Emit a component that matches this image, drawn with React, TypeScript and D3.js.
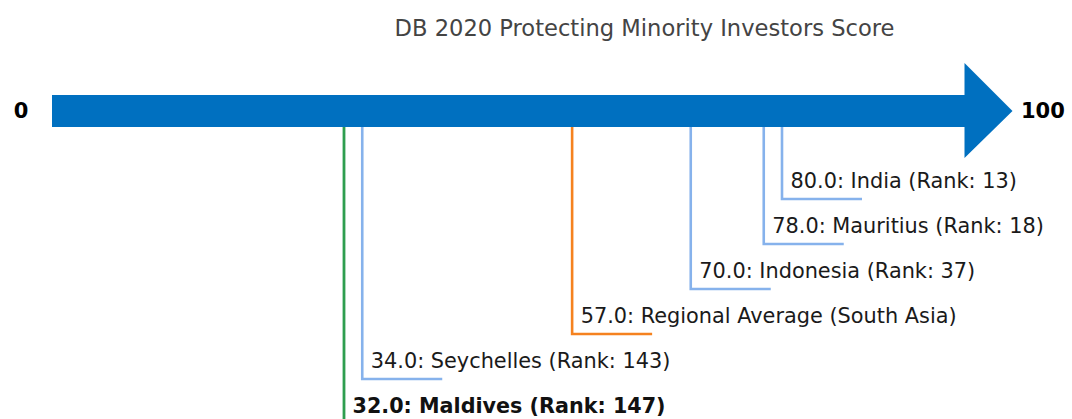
import React from "react";
import * as d3 from "d3";

const title = "DB 2020 Protecting Minority Investors Score";
const entities = ["India", "Mauritius", "Indonesia", "Regional Average (South Asia)", "Seychelles", "Maldives"];
const scores = [80.0, 78.0, 70.0, 57.0, 34.0, 32.0];
const ranks: (number | null)[] = [13, 18, 37, null, 143, 147];
const kinds = ["peer", "peer", "peer", "region", "peer", "focus"];
const axisMin = 0;
const axisMax = 100;

const W = 1072;
const H = 419;
const colors: Record<string, string> = { peer: "#86b2ec", region: "#f5821f", focus: "#2e9e4f" };
const FONT = "DejaVu Sans, Verdana, sans-serif";

export default function App() {
  const x = d3.scaleLinear().domain([axisMin, axisMax]).range([52, 964.5]);
  const y = d3.scalePoint<string>().domain(entities).range([199, 424]);
  const shaftTop = 95;
  const shaftBot = 127;
  const midY = (shaftTop + shaftBot) / 2;
  const headBase = x(axisMax);
  const arrow = d3.path();
  arrow.moveTo(x(axisMin), shaftTop);
  arrow.lineTo(headBase, shaftTop);
  arrow.lineTo(headBase, 63);
  arrow.lineTo(1012.5, midY);
  arrow.lineTo(headBase, 158);
  arrow.lineTo(headBase, shaftBot);
  arrow.lineTo(x(axisMin), shaftBot);
  arrow.closePath();

  return (
    <svg width={W} height={H} style={{ position: "absolute", left: 0, top: 0, background: "#fff" }} fontFamily={FONT}>
      <text x={644.5} y={36} textAnchor="middle" fontSize={22.6} fill="#444">{title}</text>
      {entities.map((e, i) => {
        const xi = x(scores[i]);
        const yi = y(e)!;
        const focus = kinds[i] === "focus";
        const yEnd = focus ? H + 5 : yi;
        const label = `${scores[i].toFixed(1)}: ${e}` + (ranks[i] != null ? ` (Rank: ${ranks[i]})` : "");
        const p = d3.path();
        p.moveTo(xi, shaftBot - 2);
        p.lineTo(xi, yEnd);
        if (!focus) p.lineTo(xi + 80, yEnd);
        return (
          <g key={e}>
            <path d={p.toString()} fill="none" stroke={colors[kinds[i]]} strokeWidth={focus ? 2.8 : 2.6} />
            <text x={xi + 8.5} y={yi - 11} fontSize={focus ? 20.7 : 20.85} fill={focus ? "#111" : "#1a1a1a"} fontWeight={focus ? "bold" : "normal"}>{label}</text>
          </g>
        );
      })}
      <path d={arrow.toString()} fill="#0070c0" />
      <text x={21} y={midY} textAnchor="middle" dominantBaseline="central" fontSize={21} fontWeight="bold" fill="#000">{String(axisMin)}</text>
      <text x={1021} y={midY} dominantBaseline="central" fontSize={21} fontWeight="bold" fill="#000">{String(axisMax)}</text>
    </svg>
  );
}
